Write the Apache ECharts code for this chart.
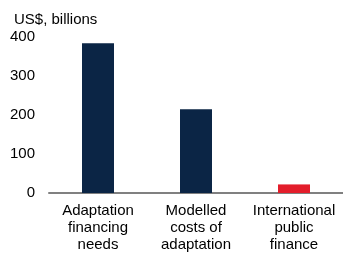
<!DOCTYPE html>
<html><head><meta charset="utf-8">
<script src="https://cdn.jsdelivr.net/npm/echarts@6/dist/echarts.min.js"></script>
<style>html,body{margin:0;padding:0;background:#fff}#c{width:343px;height:253px}</style>
</head><body><div id="c"></div>
<script>
var categories = ['Adaptation\nfinancing\nneeds', 'Modelled\ncosts of\nadaptation', 'International\npublic\nfinance'];
var values = [384, 215, 22];
var barColors = ['#0b2545', '#0b2545', '#e31d2b'];
var yTicks = [0, 100, 200, 300, 400];

var chart = echarts.init(document.getElementById('c'));
chart.setOption({
  animation: false,
  grid: { left: 49, right: -7, top: 37, bottom: 54, containLabel: false },
  title: { text: 'US$, billions', left: 14, top: 12, padding: 0, textStyle: { fontFamily: 'Liberation Sans, Arial', fontSize: 15, fontWeight: 'normal', color: '#000' } },
  xAxis: {
    type: 'category', data: categories,
    axisLine: { lineStyle: { color: '#808080', width: 2 } },
    axisTick: { show: false },
    axisLabel: { interval: 0, fontFamily: 'Liberation Sans, Arial', fontSize: 15, color: '#000', lineHeight: 17, margin: 9 }
  },
  yAxis: {
    type: 'value', min: yTicks[0], max: yTicks[yTicks.length - 1], interval: 100,
    axisLine: { show: false }, axisTick: { show: false }, splitLine: { show: false },
    axisLabel: { fontFamily: 'Liberation Sans, Arial', fontSize: 15, color: '#000', margin: 14 }
  },
  series: [{
    type: 'bar', barWidth: 32,
    data: values.map(function (v, i) { return { value: v, itemStyle: { color: barColors[i] } }; })
  }]
});
</script></body></html>
